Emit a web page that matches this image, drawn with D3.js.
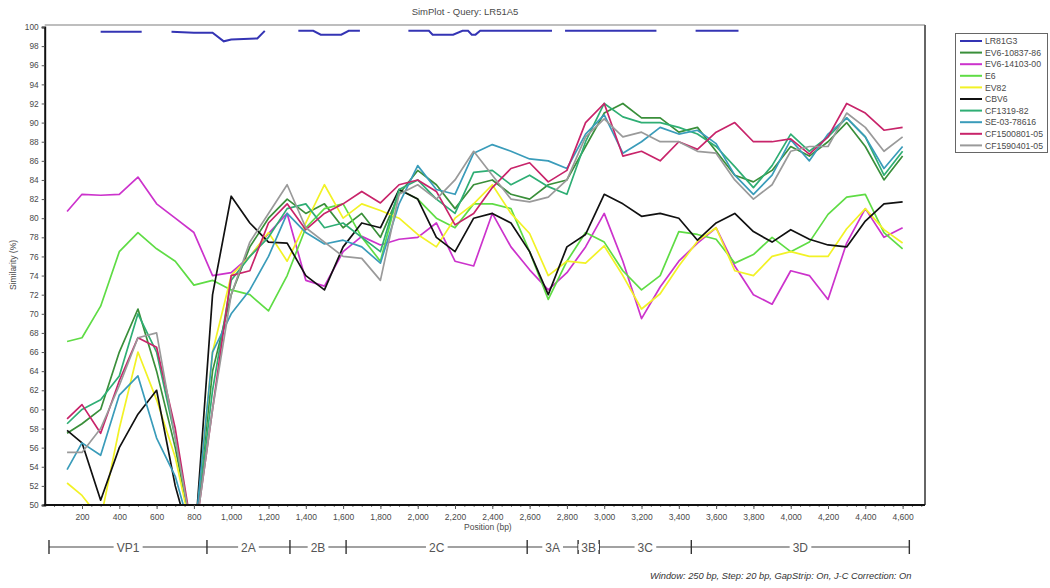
<!DOCTYPE html>
<html><head><meta charset="utf-8">
<script src="https://cdn.jsdelivr.net/npm/d3@7"></script>
<style>
body{margin:0;background:#fff;}
text{font-family:"Liberation Sans",Arial,sans-serif;}
</style>
</head><body>
<svg id="chart" width="1050" height="588"></svg>
<script>
// ---------- DATA ----------
const titleText = "SimPlot - Query: LR51A5";
const xLabel = "Position (bp)";
const yLabel = "Similarity (%)";
const footerText = "Window: 250 bp, Step: 20 bp, GapStrip: On, J-C Correction: On";

const positions = [120,200,300,400,500,600,700,800,900,1000,1100,1200,1300,1400,1500,1600,1700,1800,1900,2000,2100,2200,2300,2400,2500,2600,2700,2800,2900,3000,3100,3200,3300,3400,3500,3600,3700,3800,3900,4000,4100,4200,4300,4400,4500,4600];

const seriesNames = ["LR81G3","EV6-10837-86","EV6-14103-00","E6","EV82","CBV6","CF1319-82","SE-03-78616","CF1500801-05","CF1590401-05"];
const seriesColors = ["#3434b4","#3a8f3a","#cc33cc","#5fdc45","#f2f226","#111111","#2fae74","#3a9cba","#c8246a","#9a9a9a"];

// LR81G3 (plotted near the top with gaps; null = gap)
const lr81Positions = [300,520,600,680,800,900,960,1000,1140,1180,1270,1360,1440,1480,1590,1630,1690,1820,1950,2060,2080,2190,2240,2270,2290,2310,2335,2720,2755,2790,3280,3380,3490,3720];
const lr81Values    = [99.5,99.5,null,99.5,99.4,99.4,98.5,98.7,98.8,99.6,null,99.6,99.6,99.2,99.2,99.6,99.6,null,99.6,99.6,99.2,99.2,99.6,99.6,99.2,99.2,99.6,99.6,null,99.6,99.6,null,99.6,99.6];

const ev6_10837 = [57.5,58.5,60,66,70.5,64,56,46,64,72,77,80,82,80.5,81.5,79,80.5,78,82.5,85,83.5,81,83.5,84,82.5,82,83.5,84,87.5,91,92,90.5,90.5,89,89.5,87,84.5,83.8,85,87.5,86.5,88,90,87.5,84,86.5];
const ev6_14103 = [80.7,82.5,82.4,82.5,84.3,81.5,80,78.5,74,74.3,76,78.4,80.5,73.5,72.9,76.5,78.1,77.2,77.8,78,79.5,75.5,75,80.5,77,74.6,72.5,74.3,77,80.5,75.5,69.5,72.8,75.5,77.4,79,75,72,71,74.5,74,71.5,77.4,81,78,79];
const e6 = [67.1,67.5,70.8,76.5,78.5,76.8,75.5,73,73.5,72.5,72,70.3,74,79,81,81.5,78,75.5,83,82,80,79,81.5,81.5,81,76.5,71.5,75.5,78.5,77.5,74.5,72.5,74,78.6,78.3,77.8,75.3,76.2,78,76.5,77.5,80.4,82.2,82.5,78.5,76.8];
const ev82 = [52.3,51,48.5,58,66,61,55,46,66,74,76,78.5,75.5,79.5,83.5,80,81.5,80.8,80,78.3,77,80,81.5,83.5,80.5,78.4,74,75.5,75.3,77.1,74,70.5,72.1,75,77.6,79,74.5,74,76,76.5,76,76,78.9,81,78.8,77.4];
const cbv6 = [57.8,56.5,50.5,56,59.5,62,52,45,72,82.3,79.5,77.5,77.4,74,72.5,77,79.5,79,83,82,78,76.5,80,80.5,79.5,76.5,72,77,78.3,82.5,81.5,80.2,80.5,80,77.7,79.5,80.5,78.6,77.5,78.8,77.8,77.2,77,79.7,81.5,81.7];
const cf1319 = [58.5,60,61,63.5,70,66,57,46,62,73.5,76,78,81,81.5,79,79.5,78,76.5,83,84,82,80.5,84.8,85,83.5,84.5,83.3,82.5,88,92,90.6,90,90,89.5,88.8,87.5,85.4,83.2,85.5,88.8,87,88.5,90.5,88.5,84.5,87];
const se03 = [53.7,56.5,55.2,61.5,63.5,57,53,46,66,70,72.5,76,80.5,78.5,77.3,77.7,77,75.3,81.5,85.5,83,82.5,86.8,87.7,87,86.2,86,85.2,88.8,90.8,86.8,88,89.5,88.8,89.2,87.8,84.5,82.5,84.5,88.2,86,88.8,90.5,88.5,85.2,87.5];
const cf1500801 = [59,60.5,57.5,63,67.5,66.5,58,46,60,74,74.5,79.5,81.5,78.8,80.5,81.5,82.8,81.6,83.5,84,82.8,79.3,80.5,83.2,85.2,85.8,83.8,85,90,92,86.5,87,86,88,87.2,89,90,88,88,88.3,86.7,88.5,92,91,89.2,89.5];
const cf1590401 = [55.5,55.5,58,62.5,67.5,68,57,46,60,72,77.5,80.5,83.5,79,77.5,76,75.8,73.5,82.5,83.5,82,84,87,84.5,82,81.7,82.2,84,88.5,90.4,88.5,89,88,88,87,86.8,84,82,83.5,87,87.5,87.5,91,89.5,87,88.5];

const yTickValues = d3.range(50, 101, 2);
const xTickValues = d3.range(200, 4601, 200);
const xMinorTicks = d3.range(50, 4701, 50);

const regionNames  = ["VP1","2A","2B","2C","3A","3B","3C","3D"];
const regionBounds = [23,870,1315,1616,2587,2860,2973,3467,4636];

// ---------- DRAW ----------
(function draw(){
const svg = d3.select("#chart");
const pL = 44.7, pR = 925, pT = 27, pB = 505;
const x = d3.scaleLinear().domain([0, 4720]).range([pL, pR]);
const y = d3.scaleLinear().domain([50, 100]).range([pB, pT]);
const textCol = "#4a4a4a";

svg.append("rect").attr("width",1050).attr("height",588).attr("fill","#fff");

svg.append("text").attr("x",465).attr("y",15).attr("text-anchor","middle")
  .attr("font-size",9.5).attr("fill",textCol).text(titleText);

svg.append("clipPath").attr("id","plotclip").append("rect")
  .attr("x",pL).attr("y",pT-3).attr("width",pR-pL).attr("height",pB-pT+3);

svg.append("line").attr("x1",pL).attr("x2",pR).attr("y1",25).attr("y2",25)
  .attr("stroke","#a8a8a8").attr("stroke-width",1.5);
svg.append("line").attr("x1",pR).attr("x2",pR).attr("y1",25).attr("y2",pB)
  .attr("stroke","#666").attr("stroke-width",2);

const g = svg.append("g").attr("clip-path","url(#plotclip)");
const allSeries = [ev6_10837, ev6_14103, e6, ev82, cbv6, cf1319, se03, cf1500801, cf1590401];

const lrLine = d3.line().defined(d => d[1] !== null).x(d => x(d[0])).y(d => y(d[1]));
g.append("path").datum(lr81Positions.map((p,i)=>[p, lr81Values[i]]))
  .attr("d", lrLine).attr("fill","none").attr("stroke",seriesColors[0]).attr("stroke-width",2);

const line = d3.line().x(d => x(d[0])).y(d => y(d[1]));
allSeries.forEach((vals, k) => {
  g.append("path").datum(positions.map((p,i)=>[p, vals[i]]))
    .attr("d", line).attr("fill","none")
    .attr("stroke", seriesColors[k+1]).attr("stroke-width",1.7)
    .attr("stroke-linejoin","round");
});

const yAxis = svg.append("g").attr("transform",`translate(${pL},0)`)
  .call(d3.axisLeft(y).tickValues(yTickValues).tickSize(3).tickPadding(3));
yAxis.select(".domain").attr("stroke","#111").attr("stroke-width",2);
yAxis.selectAll(".tick line").attr("stroke","#555");
yAxis.selectAll("text").attr("font-size",8.3).attr("fill",textCol)
  .attr("font-family","'Liberation Sans',Arial,sans-serif");

const xMinor = svg.append("g").attr("transform",`translate(0,${pB})`)
  .call(d3.axisBottom(x).tickValues(xMinorTicks).tickSize(2).tickFormat(""));
xMinor.select(".domain").remove();
xMinor.selectAll(".tick line").attr("stroke","#777");

const xAxis = svg.append("g").attr("transform",`translate(0,${pB})`)
  .call(d3.axisBottom(x).tickValues(xTickValues).tickSize(4).tickPadding(5).tickFormat(d3.format(",")));
xAxis.select(".domain").attr("stroke","#111").attr("stroke-width",2.2)
  .attr("d",`M${pL-1},0H${pR}`);
xAxis.selectAll(".tick line").attr("stroke","#555");
xAxis.selectAll("text").attr("font-size",8.5).attr("fill",textCol)
  .attr("font-family","'Liberation Sans',Arial,sans-serif");

svg.append("text").attr("x",(pL+pR)/2+3).attr("y",530).attr("text-anchor","middle")
  .attr("font-size",8.5).attr("fill",textCol).text(xLabel);
svg.append("text").attr("transform","translate(16,265) rotate(-90)").attr("text-anchor","middle")
  .attr("font-size",8.5).attr("fill",textCol).text(yLabel);

const mapY = 547;
const gm = svg.append("g");
gm.append("line").attr("x1",x(regionBounds[0])).attr("x2",x(regionBounds[regionBounds.length-1]))
  .attr("y1",mapY).attr("y2",mapY).attr("stroke","#444").attr("stroke-width",1.1);
regionBounds.forEach(b => {
  gm.append("line").attr("x1",x(b)).attr("x2",x(b)).attr("y1",mapY-7).attr("y2",mapY+7)
    .attr("stroke","#333").attr("stroke-width",1.4);
});
regionNames.forEach((n,i) => {
  const cx = (x(regionBounds[i]) + x(regionBounds[i+1]))/2;
  const t = gm.append("text").attr("x",cx).attr("y",mapY+4.5).attr("text-anchor","middle")
    .attr("font-size",12).attr("fill","#555").text(n);
  const bb = t.node().getBBox();
  gm.insert("rect","text").attr("x",bb.x-3).attr("y",mapY-3).attr("width",bb.width+6).attr("height",6).attr("fill","#fff");
});

const lg = svg.append("g");
lg.append("rect").attr("x",955.5).attr("y",33.5).attr("width",92).attr("height",119)
  .attr("fill","#fff").attr("stroke","#666").attr("stroke-width",1);
seriesNames.forEach((n,i) => {
  const ly = 41 + i*11.6;
  lg.append("line").attr("x1",960).attr("x2",982).attr("y1",ly).attr("y2",ly)
    .attr("stroke",seriesColors[i]).attr("stroke-width",2);
  lg.append("text").attr("x",985).attr("y",ly+3.2).attr("font-size",8.7).attr("fill",textCol).text(n);
});

svg.append("text").attr("x",650).attr("y",579).attr("font-size",9.3).attr("font-style","italic")
  .attr("fill","#333").text(footerText);
})();
</script>
</body></html>
